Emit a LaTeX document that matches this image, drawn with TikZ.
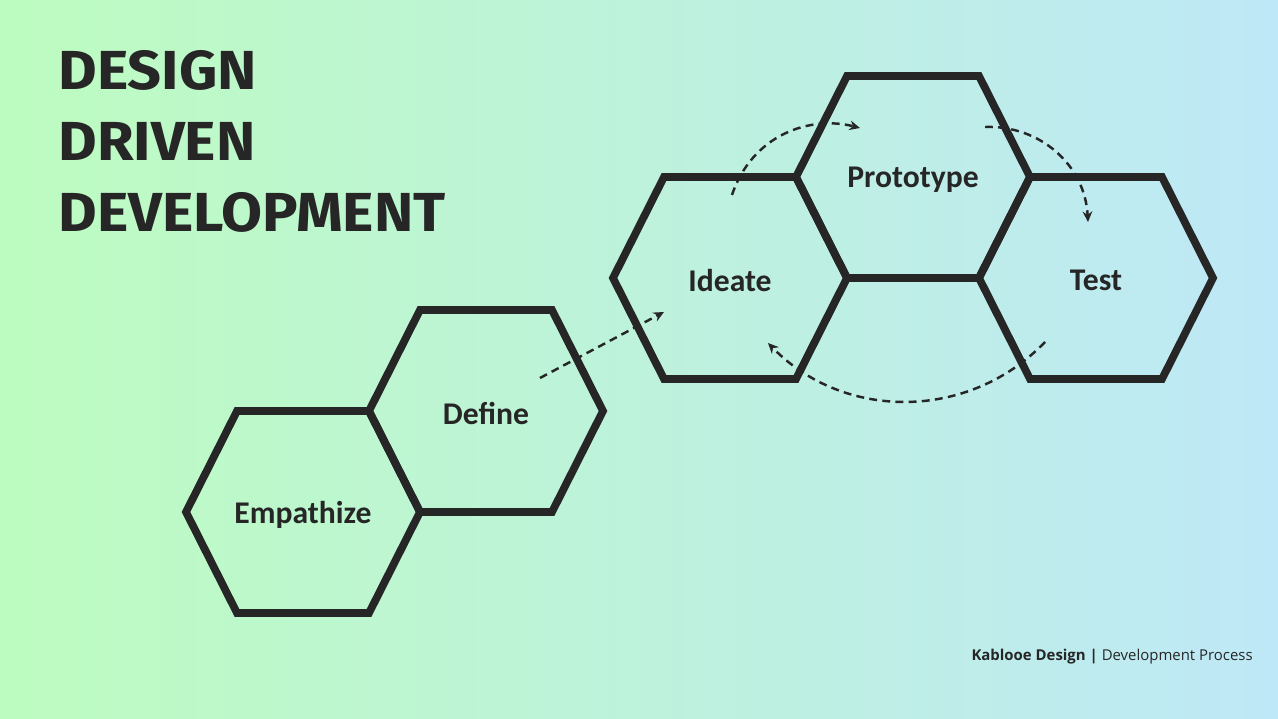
\documentclass[tikz,border=0pt]{standalone}
\usepackage{fontspec}
\setmainfont{Carlito}
\newfontfamily\titlefont{Fira Sans}
\newfontfamily\footfont{Open Sans}
\usetikzlibrary{arrows.meta}
\definecolor{ink}{HTML}{262626}
\definecolor{mint}{RGB}{189,252,192}
\definecolor{sky}{RGB}{190,232,247}

\begin{document}
\begin{tikzpicture}[x=0.02cm,y=-0.02cm]
\tikzset{hexa/.style = {draw=ink, line width=4.4pt},
         hexlabel/.style = {text=ink, yshift=-1.6pt, font=\fontsize{18}{20}\selectfont\bfseries},
         flow/.style = {draw=ink, line width=1.4pt, dash pattern=on 4.5pt off 3pt,
                        -{Stealth[length=6pt,width=5.5pt]}}}
% background
\useasboundingbox (0,0) rectangle (1278,719);
\shade[left color=mint, right color=sky] (0,0) rectangle (1278,719);
% title
\foreach \y/\word/\name in {90/DESIGN/t1,161/DRIVEN/t2,232/DEVELOPMENT/t3} {
    \node[anchor=base west, inner sep=0, text=ink,
          font=\titlefont\fontsize{31.3}{36}\selectfont\bfseries] (\name) at (58,\y)
          {\scalebox{1.08}[1]{\word}};
}
% hexagons
\foreach \x/\y/\name/\word in {303/512/emp/Empathize,486/411/def/Define,730/278/ide/Ideate,
                               913/177/pro/Prototype,1096/278/tst/Test} {
    \draw[hexa] (\x-117,\y) -- (\x-66,\y-101) -- (\x+66,\y-101) -- (\x+117,\y)
                -- (\x+66,\y+101) -- (\x-66,\y+101) -- cycle;
    \node[hexlabel] (\name) at (\x,\y) {\word};
}
% arrows
\coordinate (a1) at (540,378);  \coordinate (a2) at (664,312);
\coordinate (b1) at (732,195);  \coordinate (b2) at (860,128);
\coordinate (c1) at (985,127);  \coordinate (c2) at (1088,222);
\coordinate (e1) at (1045,342); \coordinate (e2) at (768,343);
\draw[flow] (a1) -- (a2);
\draw[flow] (b1) .. controls (752,135) and (810,115) .. (b2);
\draw[flow] (c1) .. controls (1040,125) and (1085,165) .. (c2);
\draw[flow] (e1) .. controls (969,421) and (844,421) .. (e2);
% footer
\node[anchor=base east, inner sep=0, text=ink, font=\footfont\fontsize{8.5}{10}\selectfont]
    (foot) at (1253,660) {{\bfseries Kablooe Design |} Development Process};
\end{tikzpicture}
\end{document}
